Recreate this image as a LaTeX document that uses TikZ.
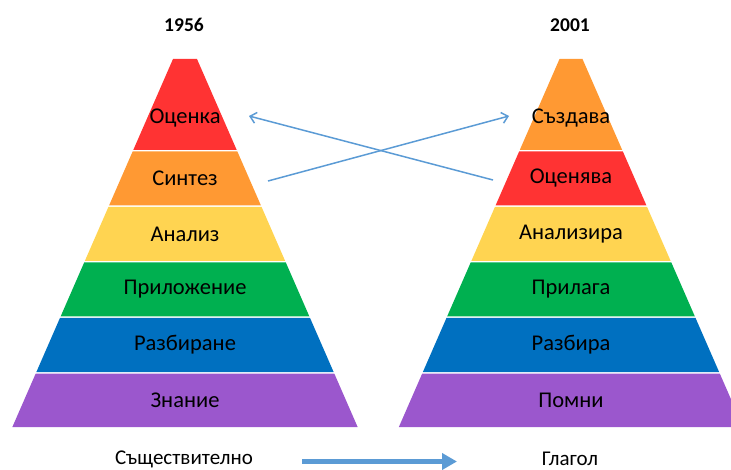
\documentclass[tikz,border=0pt]{standalone}
\usepackage{fontspec}
\setmainfont{Carlito}
\usetikzlibrary{arrows.meta}
\definecolor{cRed}{HTML}{FF3333}
\definecolor{cOrange}{HTML}{FF9933}
\definecolor{cYellow}{HTML}{FFD451}
\definecolor{cGreen}{HTML}{00B050}
\definecolor{cBlue}{HTML}{0070C0}
\definecolor{cPurple}{HTML}{9B57CD}
\definecolor{cLine}{HTML}{5B9BD5}
\newcommand\pband[5]{% cx, w0, ytop, ybot, colour
  \fill[#5] ({#1-#2-0.4365*(#3-59)},#3) -- ({#1+#2+0.4365*(#3-59)},#3)
    -- ({#1+#2+0.4365*(#4-59)},#4) -- ({#1-#2-0.4365*(#4-59)},#4) -- cycle;}
\begin{document}
\begin{tikzpicture}[x=1pt,y=-1pt,
  lbl/.style={font=\fontsize{22.5}{25}\selectfont, text=black, inner sep=0pt},
  ttl/.style={font=\fontsize{19.5}{22}\selectfont\bfseries, inner sep=0pt},
  bot/.style={font=\fontsize{21}{23}\selectfont, inner sep=0pt},
  xarrow/.style={draw=cLine, line width=1.5pt, -{Straight Barb[length=6pt,width=11pt,line width=1.5pt]}},
  bigarrow/.style={draw=cLine, line width=5pt, -{Triangle[length=15pt,width=16pt]}}]
\useasboundingbox (0,0) rectangle (731,470);
\begin{scope}
\clip (0,0) rectangle (731,470);
% left pyramid
\pband{185}{12}{59}{150}{cRed}
\pband{185}{12}{151.5}{205.5}{cOrange}
\pband{185}{12}{207}{261}{cYellow}
\pband{185}{12}{262.5}{316.5}{cGreen}
\pband{185}{12}{318}{372}{cBlue}
\pband{185}{12}{373.5}{427}{cPurple}
% right pyramid
\pband{571}{11.5}{59}{150}{cOrange}
\pband{571}{11.5}{151.5}{205.5}{cRed}
\pband{571}{11.5}{207}{261}{cYellow}
\pband{571}{11.5}{262.5}{316.5}{cGreen}
\pband{571}{11.5}{318}{372}{cBlue}
\pband{571}{11.5}{373.5}{427}{cPurple}
\end{scope}
% titles
\node[ttl] (t1) at (184,25) {1956};
\node[ttl] (t2) at (570,25) {2001};
% left labels
\node[lbl] (l1) at (185,118) {Оценка};
\node[lbl] (l2) at (185,178.5) {Синтез};
\node[lbl] (l3) at (185,234) {Анализ};
\node[lbl] (l4) at (185,289.5) {Приложение};
\node[lbl] (l5) at (185,345) {Разбиране};
\node[lbl] (l6) at (185,400) {Знание};
% right labels
\node[lbl] (r1) at (571,118) {Създава};
\node[lbl] (r2) at (571,178.5) {Оценява};
\node[lbl] (r3) at (571,234) {Анализира};
\node[lbl] (r4) at (571,289.5) {Прилага};
\node[lbl] (r5) at (571,345) {Разбира};
\node[lbl] (r6) at (571,400) {Помни};
% crossing arrows
\coordinate (sA) at (268,181);
\coordinate (eA) at (509,116);
\coordinate (sB) at (493,180);
\coordinate (eB) at (249,116);
\draw[xarrow] (sA) -- (eA);
\draw[xarrow] (sB) -- (eB);
% bottom
\node[bot] (noun) at (184,459) {Съществително};
\node[bot] (verb) at (570,459) {Глагол};
\coordinate (bS) at (302,461.5);
\coordinate (bE) at (457,461.5);
\draw[bigarrow] (bS) -- (bE);
\end{tikzpicture}
\end{document}
